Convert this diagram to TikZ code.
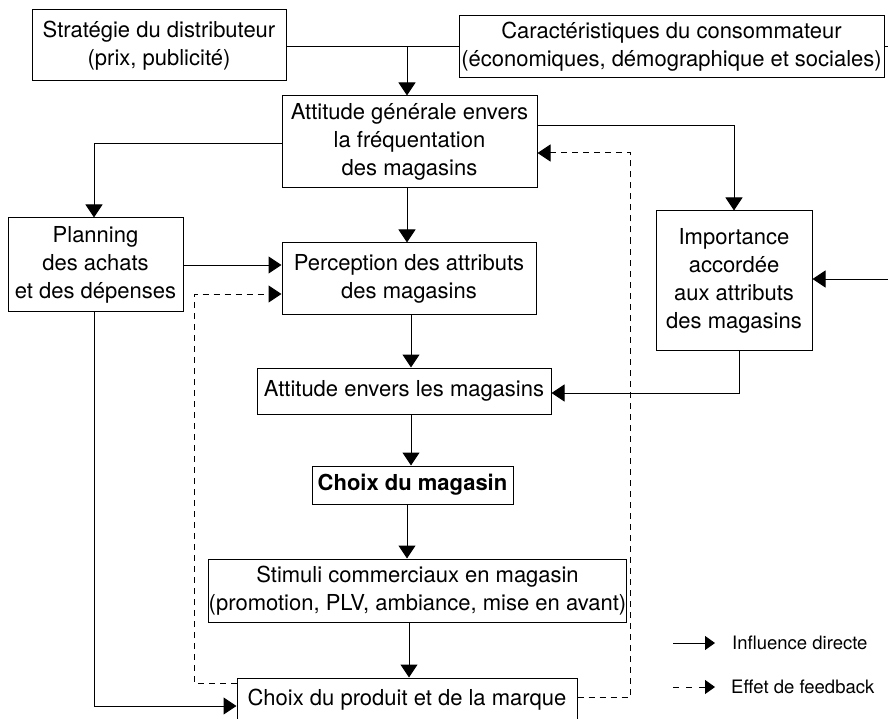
\documentclass[tikz,border=0pt]{standalone}
\usepackage{fontspec}
\setmainfont{TeX Gyre Heros}
\usetikzlibrary{arrows.meta}
\begin{document}
\begin{tikzpicture}[x=1pt,y=-1pt,
  box/.style={draw, line width=1pt, inner sep=0pt, align=center,
    font=\fontsize{22}{28}\selectfont},
  ln/.style={line width=1pt},
  arr/.style={line width=1pt, -{Triangle[length=13pt,width=17pt]}},
  fb/.style={arr, dash pattern=on 6pt off 5pt},
  legarr/.style={line width=1pt, -{Triangle[length=10pt,width=14pt]}},
  legfb/.style={legarr, dash pattern=on 6pt off 7pt},
  legtext/.style={inner sep=0pt, anchor=west, font=\fontsize{18.5}{22}\selectfont}]
\useasboundingbox (0,0) rectangle (888,719);
\fill[white] (0,0) rectangle (888,719);

% boxes
\node[box, minimum width=254pt, minimum height=71pt] (strat) at (159,45.5)
  {Stratégie du distributeur\\(prix, publicité)};
\node[box, minimum width=425pt, minimum height=62pt] (carac) at (671.5,47)
  {Caractéristiques du consommateur\\(économiques, démographique et sociales)};
\node[box, minimum width=255pt, minimum height=92pt] (attgen) at (409.5,142)
  {Attitude générale envers\\la fréquentation\\des magasins};
\node[box, minimum width=175pt, minimum height=93pt] (plan) at (95.5,264.5)
  {Planning\\des achats\\et des dépenses};
\node[box, minimum width=254pt, minimum height=71pt] (perc) at (409,278.5)
  {Perception des attributs\\des magasins};
\node[box, minimum width=156pt, minimum height=139pt] (imp) at (734,280.5)
  {Importance\\accordée\\aux attributs\\des magasins};
\node[box, minimum width=294pt, minimum height=46pt] (attenv) at (404,391)
  {Attitude envers les magasins};
\node[box, minimum width=201pt, minimum height=38pt] (choixmag) at (412.5,485)
  {\bfseries Choix du magasin};
\node[box, minimum width=415pt, minimum height=63pt] (stim) at (417.5,590.5)
  {Stimuli commerciaux en magasin\\(promotion, PLV, ambiance, mise en avant)};
\node[box, minimum width=340pt, minimum height=44pt] (prod) at (407,700)
  {Choix du produit et de la marque};

% coordinates
\coordinate (j1) at (407,47);
\coordinate (r1) at (905,47);
\coordinate (r2) at (905,279);
\coordinate (a1) at (94,144);
\coordinate (a2) at (734,126);
\coordinate (c411) at (411,0);
\coordinate (c409) at (409,0);
\coordinate (i1) at (739,393);
\coordinate (b1) at (94,706);
\coordinate (d1) at (630,697);
\coordinate (d2) at (630,153);
\coordinate (e1) at (194,683);
\coordinate (e2) at (194,294);

% direct influences
\draw[ln] (strat.east |- j1) -- (carac.west |- j1);
\draw[arr] (j1) -- (attgen.north -| j1);
\draw[arr] (carac.east |- r1) -- (r1) -- (r2) -- (imp.east |- r2);
\draw[arr] (attgen.west |- a1) -- (a1) -- (plan.north -| a1);
\draw[arr] (attgen.east |- a2) -- (a2) -- (imp.north -| a2);
\draw[arr] (attgen.south -| j1) -- (perc.north -| j1);
\draw[arr] (plan.east |- 0,265) -- (perc.west |- 0,265);
\draw[arr] (perc.south -| c411) -- (attenv.north -| c411);
\draw[arr] (imp.south -| i1) -- (i1) -- (attenv.east |- i1);
\draw[arr] (attenv.south -| c411) -- (choixmag.north -| c411);
\draw[arr] (choixmag.south -| j1) -- (stim.north -| j1);
\draw[arr] (stim.south -| c409) -- (prod.north -| c409);
\draw[arr] (plan.south -| b1) -- (b1) -- (prod.west |- b1);

% feedback
\draw[fb] (prod.east |- d1) -- (d1) -- (d2) -- (attgen.east |- d2);
\draw[fb] (prod.west |- e1) -- (e1) -- (e2) -- (perc.west |- e2);

% legend
\coordinate (l1) at (673,643);
\coordinate (l1e) at (715,643);
\coordinate (l2) at (673,687);
\coordinate (l2e) at (715,687);
\node[legtext] (lt1) at (732,643) {Influence directe};
\node[legtext] (lt2) at (731,687) {Effet de feedback};
\draw[legarr] (l1) -- (l1e);
\draw[legfb] (l2) -- (l2e);
\end{tikzpicture}
\end{document}
